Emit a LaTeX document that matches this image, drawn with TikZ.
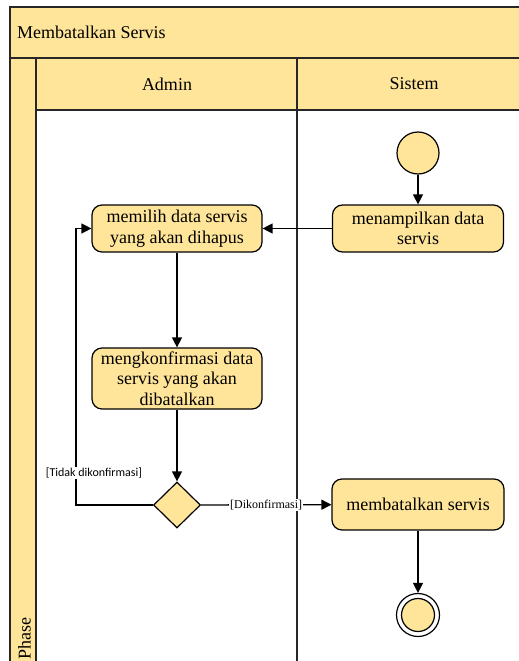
\documentclass[tikz,border=0pt]{standalone}
\usepackage{fontspec}
\setmainfont{Liberation Serif}
\newfontfamily\actfont{Liberation Serif}
\newfontfamily\guardfont{Carlito}
\usetikzlibrary{arrows.meta,shapes.geometric}

\definecolor{swimfill}{RGB}{255,229,153}

\tikzset{
  lane/.style={line width=1.2pt, draw=black!85},
  act/.style={draw, line width=1.2pt, fill=swimfill, rounded corners=10pt,
    align=center, inner sep=3pt, font=\actfont\fontsize{18}{20.5}\selectfont},
  flow/.style={line width=1.3pt, -{Triangle[length=10pt,width=10pt]}},
  guard/.style={fill=white, inner sep=1pt},
  title/.style={inner sep=0pt, font=\actfont\fontsize{18}{20.5}\selectfont},
}

\begin{document}
\begin{tikzpicture}[x=1pt, y=-1pt]
        \useasboundingbox (0,0) rectangle (519,661);
        \clip (0,0) rectangle (519,661);

        % Swimlane frame
        \fill[swimfill] (10,7) rectangle (531,58);
        \fill[swimfill] (10,58) rectangle (36,700);
        \fill[swimfill] (36,58) rectangle (531,110);
        \draw[lane] (10,700) -- (10,7) -- (531,7);
        \draw[lane] (10,58) -- (531,58);
        \draw[lane] (36,58) -- (36,700);
        \draw[lane] (36,110) -- (531,110);
        \draw[lane] (297,58) -- (297,700);

        % Headers
        \node[title, anchor=west] (judul) at (17,32) {Membatalkan Servis};
        \node[title] (admin) at (167,84) {Admin};
        \node[title] (sistem) at (414,84) {Sistem};
        \node[title, rotate=90, anchor=west] (phase) at (24.5,660) {Phase};

        % Activities
        \node[circle, draw, line width=1.2pt, fill=swimfill, minimum size=42pt] (mulai) at (418,153) {};
        \node[act, minimum width=171pt, minimum height=47pt] (tampil) at (418,228.5) {menampilkan data\\servis};
        \node[act, minimum width=170pt, minimum height=47pt] (pilih) at (177,228.5) {memilih data servis\\yang akan dihapus};
        \node[act, minimum width=170pt, minimum height=61pt] (konfirmasi) at (177,378.5) {mengkonfirmasi data\\servis yang akan\\dibatalkan};
        \node[diamond, draw, line width=1.2pt, fill=swimfill, inner sep=0pt, minimum width=47pt, minimum height=46pt] (cek) at (177,505) {};
        \node[act, minimum width=172pt, minimum height=51pt] (batal) at (418,504.5) {membatalkan servis};
        \node[circle, draw, line width=1.2pt, fill=white, minimum size=43pt] (selesai) at (418,615) {};
        \node[circle, draw, line width=1.2pt, fill=swimfill, minimum size=33pt] (selesaiDot) at (selesai) {};

        % Flows
        \draw[flow] (mulai) -- (tampil);
        \draw[flow] (tampil) -- (pilih);
        \draw[flow] (pilih) -- (konfirmasi);
        \draw[flow] (konfirmasi) -- (cek);
        \draw[flow] (cek) -- node[guard, font=\actfont\fontsize{12}{14}\selectfont] {[Dikonfirmasi]} (batal);
        \coordinate (balik) at (76,505);
        \draw[flow] (cek.west) -- (balik) |- (pilih.west);
        \node[guard, font=\guardfont\fontsize{12}{14}\selectfont] (tolak) at (94,473) {[Tidak dikonfirmasi]};
        \draw[flow] (batal) -- (selesai);
\end{tikzpicture}
\end{document}
